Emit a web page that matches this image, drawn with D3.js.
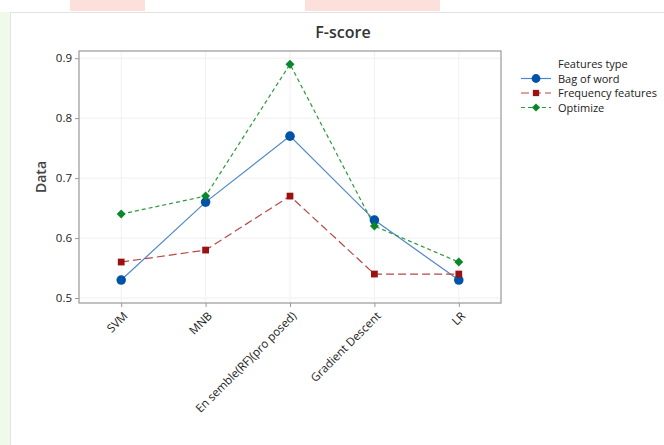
<!DOCTYPE html>
<html><head><meta charset="utf-8">
<script src="https://cdn.jsdelivr.net/npm/d3@7"></script>
<style>body{margin:0;background:#fff}svg{display:block}text{font-family:"Open Sans","Noto Sans",sans-serif}</style>
</head><body>
<svg id="c" width="664" height="445"></svg>
<script>
const categories = ["SVM","MNB","En semble(RF)(pro posed)","Gradient Descent","LR"];
const bagOfWord = [0.53,0.66,0.77,0.63,0.53];
const frequencyFeatures = [0.56,0.58,0.67,0.54,0.54];
const optimize = [0.64,0.67,0.89,0.62,0.56];
const yTicks = [0.5,0.6,0.7,0.8,0.9];
const seriesNames = ["Bag of word","Frequency features","Optimize"];

const svg = d3.select("#c");
// background
svg.append("rect").attr("x",0).attr("y",0).attr("width",664).attr("height",445).attr("fill","#fff");
svg.append("rect").attr("x",0).attr("y",12).attr("width",10).attr("height",433).attr("fill","#effaea");
svg.append("rect").attr("x",70).attr("y",0).attr("width",75).attr("height",11).attr("fill","#fde0dc");
svg.append("rect").attr("x",305).attr("y",0).attr("width",135).attr("height",11).attr("fill","#fde0dc");
svg.append("rect").attr("x",10.5).attr("y",12.5).attr("width",660).attr("height",440).attr("fill","#fff").attr("stroke","#e2e2e2");

const L=79,R=501,T=51,B=303;
const x = d3.scalePoint().domain(categories).range([L,R]).padding(0.5);
const y = d3.scaleLinear().domain([0.4917,0.912]).range([B,T]);

// grid
const g = svg.append("g");
g.selectAll(".hg").data(yTicks).join("line").attr("x1",L).attr("x2",R)
 .attr("y1",d=>y(d)).attr("y2",d=>y(d)).attr("stroke","#f0f0f0");
g.selectAll(".vg").data(categories).join("line").attr("y1",T).attr("y2",B)
 .attr("x1",d=>x(d)).attr("x2",d=>x(d)).attr("stroke","#f0f0f0");

// frame
svg.append("rect").attr("x",L).attr("y",T).attr("width",R-L).attr("height",B-T)
 .attr("fill","none").attr("stroke","#a0a0a0").attr("stroke-width",1.3);

// axes
const yAx = svg.append("g").attr("transform",`translate(${L},0)`)
 .call(d3.axisLeft(y).tickValues(yTicks).tickFormat(d3.format(".1f")).tickSize(4).tickPadding(3));
const xAx = svg.append("g").attr("transform",`translate(0,${B})`)
 .call(d3.axisBottom(x).tickSize(4).tickPadding(4));
[yAx,xAx].forEach(a=>{a.select(".domain").remove();a.selectAll("line").attr("stroke","#999");
 a.selectAll("text").attr("fill","#222").style("font-size","11.5px").style("font-family","'Open Sans',sans-serif");});
xAx.selectAll("text").attr("text-anchor","end").attr("dx","0").attr("dy","0")
 .attr("transform","translate(1,8) rotate(-45)");

// titles
svg.append("text").attr("x",343).attr("y",38).attr("text-anchor","middle")
 .attr("fill","#333").style("font-size","16px").style("font-weight","600").text("F-score");
svg.append("text").attr("transform","translate(46,177) rotate(-90)").attr("text-anchor","middle")
 .attr("fill","#444").style("font-size","14px").style("font-weight","600").text("Data");

const diamond = {draw(ctx,size){const s=Math.sqrt(size)/Math.SQRT2*1.0;const r=Math.sqrt(size/2);
 ctx.moveTo(0,-r);ctx.lineTo(r,0);ctx.lineTo(0,r);ctx.lineTo(-r,0);ctx.closePath();}};
const series = [
 {name:seriesNames[0],vals:bagOfWord,line:"#4d88c9",mark:"#0053a6",dash:null,shape:d3.symbolCircle,size:72},
 {name:seriesNames[1],vals:frequencyFeatures,line:"#b64848",mark:"#9b1111",dash:"8,4",shape:d3.symbolSquare,size:46},
 {name:seriesNames[2],vals:optimize,line:"#2c9a3c",mark:"#0b8629",dash:"4,3",shape:diamond,size:40}
];
const line = d3.line().x((d,i)=>x(categories[i])).y(d=>y(d));
series.forEach(s=>{
 svg.append("path").datum(s.vals).attr("d",line).attr("fill","none").attr("stroke",s.line)
  .attr("stroke-width",1.2).attr("stroke-dasharray",s.dash);
});
series.forEach(s=>{
 svg.selectAll(null).data(s.vals).join("path")
  .attr("transform",(d,i)=>`translate(${x(categories[i])},${y(d)})`)
  .attr("d",d3.symbol().type(s.shape).size(s.size)).attr("fill",s.mark);
});

// legend
const lg = svg.append("g");
lg.append("text").attr("x",558).attr("y",68).attr("fill","#222").style("font-size","11px").text("Features type");
series.forEach((s,i)=>{
 const yy = 78.5+i*14.5;
 lg.append("line").attr("x1",521).attr("x2",551).attr("y1",yy).attr("y2",yy).attr("stroke",s.line)
  .attr("stroke-width",1.2).attr("stroke-dasharray",s.dash);
 lg.append("path").attr("transform",`translate(536,${yy})`).attr("d",d3.symbol().type(s.shape).size(s.size*0.85)).attr("fill",s.mark);
 lg.append("text").attr("x",558).attr("y",yy+4).attr("fill","#222").style("font-size","11px").text(s.name);
});
</script>
</body></html>
